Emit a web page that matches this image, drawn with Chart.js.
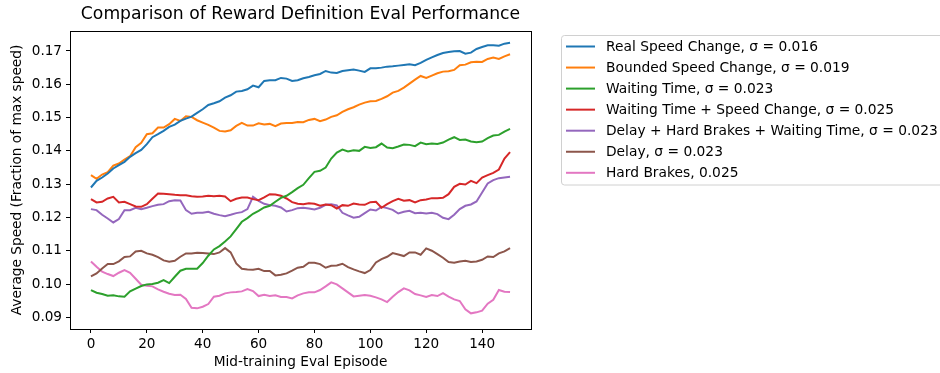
<!DOCTYPE html>
<html>
<head>
<meta charset="utf-8">
<script src="https://cdn.jsdelivr.net/npm/chart.js@4/dist/chart.umd.min.js"></script>
<style>
html,body{margin:0;padding:0;background:#fff;}
#wrap{width:940px;height:373px;position:relative;}
</style>
</head>
<body>
<div id="wrap"><canvas id="c" width="940" height="373"></canvas></div>
<script>
const episodes = [0,2,4,6,8,10,12,14,16,18,20,22,24,26,28,30,32,34,36,38,40,42,44,46,48,50,52,54,56,58,60,62,64,66,68,70,72,74,76,78,80,82,84,86,88,90,92,94,96,98,100,102,104,106,108,110,112,114,116,118,120,122,124,126,128,130,132,134,136,138,140,142,144,146,148,150];

const realSpeedChange = [.1290,.1310,.1320,.1332,.1347,.1357,.1367,.1382,.1393,.1403,.1420,.1441,.1450,.1460,.1472,.1479,.1490,.1497,.1503,.1514,.1525,.1538,.1543,.1549,.1560,.1567,.1578,.1580,.1585,.1596,.1591,.1610,.1612,.1612,.1619,.1617,.1610,.1612,.1618,.1622,.1627,.1631,.1640,.1635,.1634,.1640,.1642,.1644,.1641,.1637,.1648,.1648,.1650,.1653,.1654,.1656,.1658,.1660,.1657,.1664,.1673,.1681,.1688,.1694,.1697,.1699,.1700,.1692,.1695,.1706,.1712,.1717,.1717,.1716,.1722,.1725];

const boundedSpeedChange = [.1327,.1316,.1329,.1336,.1356,.1362,.1374,.1384,.1411,.1424,.1450,.1453,.1470,.1470,.1480,.1496,.1490,.1504,.1502,.1492,.1485,.1478,.1470,.1460,.1458,.1462,.1475,.1484,.1476,.1476,.1483,.1479,.1481,.1474,.1482,.1484,.1484,.1487,.1486,.1493,.1496,.1489,.1494,.1502,.1507,.1517,.1525,.1531,.1539,.1545,.1549,.1550,.1556,.1564,.1575,.1580,.1590,.1602,.1614,.1625,.1619,.1626,.1633,.1638,.1639,.1643,.1657,.1659,.1666,.1668,.1667,.1676,.1680,.1676,.1684,.1690];

const waitingTime = [.0982,.0974,.0970,.0965,.0966,.0963,.0962,.0978,.0986,.0994,.0999,.1000,.1004,.1012,.1003,.1022,.1040,.1046,.1046,.1046,.1063,.1085,.1104,.1114,.1128,.1143,.1165,.1187,.1198,.1211,.1220,.1230,.1235,.1247,.1259,.1265,.1276,.1288,.1298,.1318,.1337,.1340,.1350,.1377,.1395,.1404,.1398,.1402,.1400,.1412,.1409,.1411,.1422,.1410,.1408,.1413,.1419,.1418,.1414,.1425,.1420,.1422,.1421,.1425,.1434,.1441,.1433,.1434,.1428,.1426,.1428,.1438,.1446,.1448,.1458,.1466];

const waitingPlusSpeed = [.1255,.1245,.1247,.1257,.1262,.1245,.1247,.1240,.1233,.1232,.1240,.1256,.1272,.1271,.1270,.1268,.1267,.1267,.1264,.1262,.1263,.1265,.1264,.1265,.1263,.1249,.1256,.1260,.1260,.1255,.1252,.1260,.1270,.1269,.1265,.1257,.1246,.1241,.1240,.1243,.1241,.1235,.1239,.1237,.1227,.1237,.1235,.1242,.1239,.1238,.1246,.1247,.1229,.1240,.1249,.1256,.1250,.1252,.1245,.1252,.1254,.1258,.1258,.1259,.1270,.1292,.1301,.1299,.1310,.1303,.1320,.1327,.1334,.1344,.1377,.1396];

const delayBrakesWaiting = [.1225,.1222,.1208,.1197,.1185,.1195,.1222,.1222,.1229,.1225,.1229,.1234,.1238,.1240,.1249,.1252,.1251,.1222,.1211,.1214,.1214,.1217,.1211,.1207,.1204,.1208,.1213,.1216,.1225,.1262,.1250,.1241,.1237,.1235,.1230,.1218,.1222,.1228,.1229,.1227,.1224,.1229,.1238,.1240,.1236,.1214,.1206,.1199,.1202,.1213,.1224,.1221,.1232,.1228,.1223,.1212,.1217,.1220,.1213,.1214,.1212,.1214,.1210,.1199,.1195,.1208,.1225,.1235,.1239,.1248,.1275,.1302,.1312,.1318,.1320,.1322];

const delay = [.1023,.1032,.1047,.1060,.1060,.1068,.1081,.1083,.1098,.1100,.1092,.1088,.1081,.1071,.1067,.1070,.1082,.1092,.1092,.1094,.1093,.1092,.1090,.1095,.1108,.1095,.1062,.1046,.1044,.1043,.1046,.1039,.1039,.1026,.1028,.1032,.1040,.1049,.1052,.1064,.1064,.1060,.1049,.1055,.1056,.1061,.1051,.1044,.1038,.1033,.1042,.1065,.1075,.1082,.1093,.1089,.1084,.1095,.1095,.1088,.1107,.1100,.1090,.1079,.1066,.1064,.1068,.1070,.1066,.1068,.1073,.1083,.1081,.1092,.1098,.1108];

const hardBrakes = [.1068,.1052,.1037,.1030,.1024,.1034,.1042,.1034,.1016,.0998,.0995,.0993,.0984,.0977,.0971,.0967,.0968,.0955,.0929,.0927,.0932,.0940,.0962,.0965,.0972,.0975,.0976,.0978,.0985,.0979,.0964,.0968,.0964,.0966,.0961,.0961,.0957,.0966,.0972,.0975,.0975,.0982,.0993,.1005,.0999,.0987,.0975,.0963,.0965,.0967,.0965,.0960,.0954,.0946,.0962,.0976,.0987,.0981,.0970,.0966,.0961,.0967,.0964,.0973,.0962,.0954,.0949,.0924,.0912,.0915,.0920,.0941,.0953,.0982,.0977,.0976];

const seriesLabels = [
  "Real Speed Change, σ = 0.016",
  "Bounded Speed Change, σ = 0.019",
  "Waiting Time, σ = 0.023",
  "Waiting Time + Speed Change, σ = 0.025",
  "Delay + Hard Brakes + Waiting Time, σ = 0.023",
  "Delay, σ = 0.023",
  "Hard Brakes, 0.025"
];
const seriesValues = [realSpeedChange, boundedSpeedChange, waitingTime, waitingPlusSpeed, delayBrakesWaiting, delay, hardBrakes];
const seriesColors = ["#1f77b4","#ff7f0e","#2ca02c","#d62728","#9467bd","#8c564b","#e377c2"];
const xTickValues = [0,20,40,60,80,100,120,140];
const yTickValues = [0.09,0.10,0.11,0.12,0.13,0.14,0.15,0.16,0.17];

const chartTitle = "Comparison of Reward Definition Eval Performance";
const xTitle = "Mid-training Eval Episode";
const yTitle = "Average Speed (Fraction of max speed)";

const FONT = "'DejaVu Sans', sans-serif";

const datasets = seriesValues.map((vals, i) => ({
  label: seriesLabels[i],
  data: vals.map((v, j) => ({x: episodes[j], y: v})),
  borderColor: seriesColors[i],
  backgroundColor: seriesColors[i],
  borderWidth: 2,
  pointRadius: 0,
  tension: 0,
  fill: false
}));

const decor = {
  id: 'decor',
  afterDraw(chart) {
    const ctx = chart.ctx;
    const a = chart.chartArea;
    ctx.save();
    ctx.strokeStyle = '#000';
    ctx.lineWidth = 1;
    ctx.strokeRect(Math.round(a.left) + 0.5, Math.round(a.top) + 0.5, Math.round(a.right - a.left), Math.round(a.bottom - a.top));
    ctx.fillStyle = '#000';
    ctx.font = "17.2px " + FONT;
    ctx.textAlign = 'center';
    ctx.textBaseline = 'middle';
    ctx.fillText(chartTitle, (a.left + a.right) / 2, 15);
    ctx.font = "13.7px " + FONT;
    ctx.fillText(xTitle, (a.left + a.right) / 2, 362);
    ctx.save();
    ctx.translate(17, (a.top + a.bottom) / 2);
    ctx.rotate(-Math.PI / 2);
    ctx.fillText(yTitle, 0, 0);
    ctx.restore();
    const lx = 561.5, ly = 35.5, lw = 420, lh = 149.5, r = 3;
    ctx.beginPath();
    ctx.moveTo(lx + r, ly);
    ctx.lineTo(lx + lw - r, ly);
    ctx.arcTo(lx + lw, ly, lx + lw, ly + r, r);
    ctx.lineTo(lx + lw, ly + lh - r);
    ctx.arcTo(lx + lw, ly + lh, lx + lw - r, ly + lh, r);
    ctx.lineTo(lx + r, ly + lh);
    ctx.arcTo(lx, ly + lh, lx, ly + lh - r, r);
    ctx.lineTo(lx, ly + r);
    ctx.arcTo(lx, ly, lx + r, ly, r);
    ctx.closePath();
    ctx.fillStyle = 'rgba(255,255,255,0.8)';
    ctx.fill();
    ctx.strokeStyle = '#d0d0d0';
    ctx.stroke();
    ctx.textAlign = 'left';
    ctx.font = "13.8px " + FONT;
    chart.data.datasets.forEach((ds, i) => {
      const y = 46.5 + i * 21.05;
      ctx.strokeStyle = ds.borderColor;
      ctx.lineWidth = 2;
      ctx.beginPath();
      ctx.moveTo(566, y);
      ctx.lineTo(595, y);
      ctx.stroke();
      ctx.fillStyle = '#000';
      ctx.fillText(ds.label, 606, y + 0.5);
    });
    ctx.restore();
  }
};

new Chart(document.getElementById('c'), {
  type: 'line',
  data: { datasets },
  options: {
    responsive: false,
    animation: false,
    devicePixelRatio: 1,
    layout: { padding: { left: 0, right: 409, top: 31, bottom: 0 } },
    plugins: { legend: { display: false }, title: { display: false }, tooltip: { enabled: false } },
    scales: {
      x: {
        type: 'linear',
        min: -7.5,
        max: 157.5,
        afterBuildTicks: s => { s.ticks = xTickValues.map(v => ({ value: v })); },
        afterFit: s => { s.height = 44; },
        grid: { drawOnChartArea: false, drawTicks: true, tickLength: 4, color: '#000' },
        border: { display: true, color: '#000', width: 1 },
        ticks: { color: '#000', font: { family: FONT, size: 13.6 }, padding: 3, maxRotation: 0, autoSkip: false,
                 callback: v => String(v) }
      },
      y: {
        type: 'linear',
        min: 0.0865,
        max: 0.176,
        afterBuildTicks: s => { s.ticks = yTickValues.map(v => ({ value: v })); },
        afterFit: s => { s.width = 70; },
        grid: { drawOnChartArea: false, drawTicks: true, tickLength: 4, color: '#000' },
        border: { display: true, color: '#000', width: 1 },
        ticks: { color: '#000', font: { family: FONT, size: 13.6 }, padding: 4, autoSkip: false,
                 callback: v => Number(v).toFixed(2) }
      }
    }
  },
  plugins: [decor]
});
</script>
</body>
</html>
